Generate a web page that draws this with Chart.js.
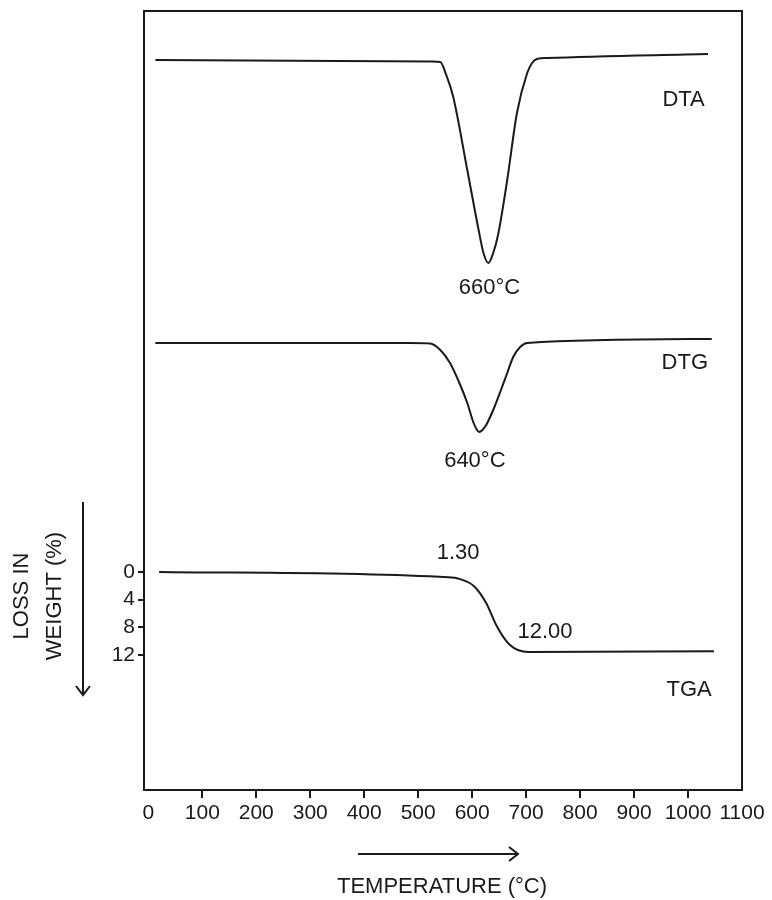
<!DOCTYPE html>
<html>
<head>
<meta charset="utf-8">
<script src="https://cdn.jsdelivr.net/npm/chart.js@4.4.0/dist/chart.umd.min.js"></script>
<style>
html, body { margin: 0; padding: 0; background: #fff; }
#wrap { width: 772px; height: 900px; }
</style>
</head>
<body>
<div id="wrap"><canvas id="thermo_chart_canvas" width="772" height="900"></canvas></div>
<script>
// tick labels
var tempTicks = [0, 100, 200, 300, 400, 500, 600, 700, 800, 900, 1000, 1100];
var lossTicks = [0, 4, 8, 12];

// DTA curve (temperature in C, signal in arbitrary units)
var dtaTemp = [13, 526, 541, 552, 565, 591, 612, 621, 630, 639, 648, 665, 683, 702, 711, 720, 739, 1037];
var dtaSignal = [0, -0.15, -0.2, -1.5, -3.7, -11, -17, -19.3, -20.3, -19.3, -17.5, -12, -5.3, -1.3, -0.3, 0.1, 0.2, 0.6];

// DTG curve
var dtgTemp = [13, 485, 522, 541, 559, 578, 591, 602, 608, 613, 619, 626, 639, 652, 665, 676, 689, 702, 1044];
var dtgSignal = [0, 0, -0.05, -0.7, -2.0, -4.2, -6.0, -7.9, -8.6, -8.9, -8.7, -8.2, -6.7, -4.9, -3.0, -1.4, -0.4, 0, 0.4];

// TGA curve (loss in weight, %)
var tgaTemp = [20, 556, 576, 604, 626, 646, 669, 704, 1048];
var tgaLoss = [0, 0.77, 1.0, 2.1, 4.5, 7.9, 10.5, 11.6, 11.5];

var FONT = "'Liberation Sans', Arial, sans-serif";
var INK = "#1a1a1a";

function toPoints(xs, ys) {
    return xs.map(function (x, i) { return { x: x, y: ys[i] }; });
}

// text labels placed in data coordinates
var notes = [
    { text: "660°C", x: 632, y: -22.8, axis: "yDTA", align: "center" },
    { text: "640°C", x: 605, y: -11.8, axis: "yDTG", align: "center" },
    { text: "1.30", x: 574, y: -2.75, axis: "y", align: "center" },
    { text: "12.00", x: 735, y: 8.7, axis: "y", align: "center" },
    { text: "DTA", x: 1031, y: -4.0, axis: "yDTA", align: "right" },
    { text: "DTG", x: 1037, y: -2.0, axis: "yDTG", align: "right" },
    { text: "TGA", x: 1044, y: 17.1, axis: "y", align: "right" }
];

var framePlugin = {
    id: "frame",
    afterDraw: function (chart) {
        var ctx = chart.ctx;
        var a = chart.chartArea;
        ctx.save();
        ctx.strokeStyle = INK;
        ctx.lineWidth = 2;
        ctx.strokeRect(a.left, a.top, a.right - a.left, a.bottom - a.top);

        ctx.fillStyle = INK;
        ctx.font = "22px " + FONT;
        ctx.textBaseline = "middle";
        notes.forEach(function (n) {
            ctx.textAlign = n.align;
            ctx.fillText(n.text, chart.scales.x.getPixelForValue(n.x), chart.scales[n.axis].getPixelForValue(n.y));
        });

        // y axis title, two rotated lines
        ctx.save();
        ctx.translate(22, 596);
        ctx.rotate(-Math.PI / 2);
        ctx.textAlign = "center";
        ctx.fillText("LOSS IN", 0, 0);
        ctx.fillText("WEIGHT (%)", 0, 33);
        ctx.restore();

        // arrows
        ctx.lineWidth = 2;
        ctx.beginPath();
        ctx.moveTo(83, 502); ctx.lineTo(83, 695);
        ctx.moveTo(76, 686); ctx.lineTo(83, 695); ctx.lineTo(90, 686);
        ctx.moveTo(358, 854); ctx.lineTo(518, 854);
        ctx.moveTo(509, 847); ctx.lineTo(518, 854); ctx.lineTo(509, 861);
        ctx.stroke();

        ctx.textAlign = "center";
        ctx.fillText("TEMPERATURE (°C)", 442, 887);
        ctx.restore();
    }
};

function lineSet(label, pts, axis) {
    return {
        label: label,
        data: pts,
        yAxisID: axis,
        borderColor: INK,
        borderWidth: 2,
        pointRadius: 0,
        fill: false,
        cubicInterpolationMode: "monotone"
    };
}

window.thermoChart = new Chart(document.getElementById("thermo_chart_canvas").getContext("2d"), {
    type: "line",
    data: {
        datasets: [
            lineSet("DTA", toPoints(dtaTemp, dtaSignal), "yDTA"),
            lineSet("DTG", toPoints(dtgTemp, dtgSignal), "yDTG"),
            lineSet("TGA", toPoints(tgaTemp, tgaLoss), "y")
        ]
    },
    options: {
        responsive: false,
        devicePixelRatio: 1,
        animation: false,
        layout: { padding: { top: 11, right: 30, bottom: 0, left: 0 } },
        plugins: {
            legend: { display: false },
            tooltip: { enabled: false }
        },
        scales: {
            x: {
                type: "linear",
                min: -8,
                max: 1100,
                afterBuildTicks: function (s) { s.ticks = tempTicks.map(function (v) { return { value: v }; }); },
                afterFit: function (s) { s.height = 110; },
                ticks: {
                    font: { family: FONT, size: 21 }, color: INK, padding: 3, maxRotation: 0, autoSkip: false,
                    callback: function (v) { return String(v); }
                },
                grid: {
                    drawOnChartArea: false,
                    tickLength: 8,
                    lineWidth: 2,
                    color: function (c) { return (c.tick && (c.tick.value === 0 || c.tick.value === 1100)) ? "rgba(0,0,0,0)" : INK; }
                },
                border: { color: INK, width: 2 }
            },
            y: {
                type: "linear",
                position: "left",
                reverse: true,
                min: -81.3,
                max: 31.6,
                afterBuildTicks: function (s) { s.ticks = lossTicks.map(function (v) { return { value: v }; }); },
                afterFit: function (s) { s.width = 144; s.paddingTop = 0; s.paddingBottom = 0; },
                ticks: {
                    font: { family: FONT, size: 21 }, color: INK, padding: 3, autoSkip: false,
                    callback: function (v) { return String(v); }
                },
                grid: { drawOnChartArea: false, tickLength: 6, lineWidth: 2, color: INK },
                border: { color: INK, width: 2 }
            },
            yDTA: { type: "linear", display: false, min: -73.0, max: 4.9 },
            yDTG: { type: "linear", display: false, min: -44.7, max: 33.2 }
        }
    },
    plugins: [framePlugin]
});
</script>
</body>
</html>
